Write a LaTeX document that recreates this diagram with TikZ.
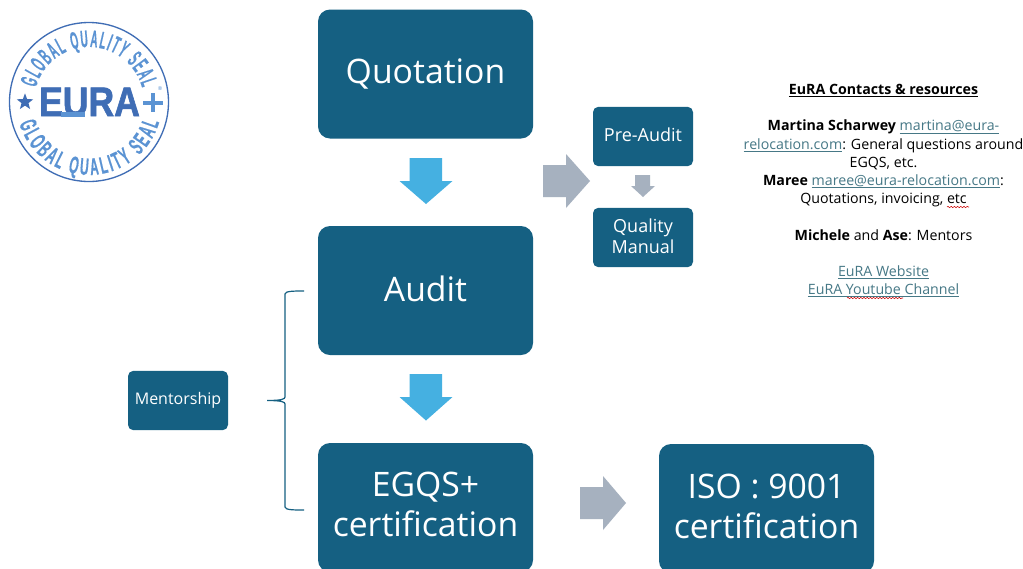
\documentclass[tikz,border=0pt]{standalone}
\usepackage{fontspec}
\setmainfont{Open Sans}
\newfontfamily\sealtop[FakeStretch=0.42,FakeBold=0.3]{Liberation Sans Bold}
\newfontfamily\sealbot[FakeStretch=0.5,FakeBold=0.3]{Liberation Sans Bold}
\newfontfamily\bigfont[FakeStretch=0.86,FakeBold=1.5]{Liberation Sans Bold}
\usetikzlibrary{decorations.text,decorations.pathmorphing,shapes.geometric}
\definecolor{teal1}{HTML}{156082}
\definecolor{blue1}{HTML}{45B0E1}
\definecolor{gray1}{HTML}{A6B1BF}
\definecolor{logoA}{HTML}{3F6DB5}
\definecolor{logoB}{HTML}{5B93D3}
\definecolor{linkc}{HTML}{467886}
\tikzset{
  x=0.75pt,y=-0.75pt,
  bigbox/.style={fill=teal1,rounded corners=9pt,inner sep=0pt,minimum width=161.25pt,minimum height=96.75pt},
  smallbox/.style={fill=teal1,rounded corners=4pt,inner sep=0pt,minimum width=75pt,minimum height=44.5pt},
  bigtext/.style={text=white,align=center,inner sep=0pt,font=\fontsize{25.3}{30}\selectfont},
  smalltext/.style={text=white,align=center,inner sep=0pt,font=\fontsize{13.5}{15.5}\selectfont},
  mtext/.style={smalltext,font=\fontsize{12}{14}\selectfont},
  blockdown/.style={fill=blue1},
  blockright/.style={fill=gray1},
  info/.style={align=center,inner sep=0pt,font=\fontsize{10.65}{13.65}\selectfont},
  squiggle/.style={red!80!black,line width=0.4pt,decorate,decoration={snake,amplitude=0.5pt,segment length=2.4pt}},
}
\newcommand{\lk}[1]{{\color{linkc}\underline{\smash{#1}}}}
\begin{document}
\begin{tikzpicture}
\useasboundingbox (0,0) rectangle (1023,568);
\clip (0,0) rectangle (1023,568);
\fill[white] (0,0) rectangle (1023,568);

% boxes
\node[bigbox,label={[bigtext]center:Quotation}] (quot) at (425.5,74) {};
\node[bigbox,label={[bigtext,yshift=1.5pt]center:Audit}] (audit) at (425.5,290.5) {};
\node[bigbox,label={[bigtext,yshift=2pt]center:EGQS+\\certification}] (egqs) at (425.5,507.5) {};
\node[bigbox,label={[bigtext,yshift=1.2pt]center:ISO : 9001\\certification}] (iso) at (766.5,508.5) {};
\node[smallbox,label={[smalltext,yshift=1.5pt]center:Pre-Audit}] (pre) at (643,136.5) {};
\node[smallbox,label={[smalltext,yshift=0.8pt]center:Quality\\Manual}] (qm) at (643,237.5) {};
\node[smallbox,label={[mtext]center:Mentorship}] (ment) at (178,400.5) {};

% block arrows
\fill[blockdown] (409.5,158) -- (442,158) -- (442,181) -- (452.5,181) -- (426,204) -- (399.5,181) -- (409.5,181) -- cycle;
\fill[blockdown] (409.5,374) -- (442,374) -- (442,397) -- (452.5,397) -- (426,420.5) -- (399.5,397) -- (409.5,397) -- cycle;
\fill[blockright] (543,165) -- (566,165) -- (566,154) -- (590,181) -- (566,208) -- (566,197) -- (543,197) -- cycle;
\fill[blockright] (580,487) -- (603,487) -- (603,476) -- (626,503) -- (603,530) -- (603,519) -- (580,519) -- cycle;
\fill[blockright] (635,175) -- (650,175) -- (650,186) -- (655,186) -- (643,197) -- (631,186) -- (635,186) -- cycle;

% brace
\draw[teal1,line width=0.9pt] (304,291) .. controls (294,291) and (285,291) .. (285,294) -- (285,397) .. controls (285,399) and (282,400.5) .. (267,400.5) .. controls (282,400.5) and (285,402) .. (285,404) -- (285,507) .. controls (285,510) and (294,510) .. (304,510);

% seal
\draw[logoA,line width=1pt] (89,102) circle[radius=79.5];
\path[decorate,decoration={text along path,text align={fit to path},text={|\sealtop\fontsize{18}{20}\selectfont\color{logoB}|GLOBAL QUALITY SEAL}}]
  plot[domain=195:345,samples=60] ({89+55*cos(\x)},{102+55*sin(\x)});
\path[decorate,decoration={text along path,text align={fit to path},text={|\sealbot\fontsize{18}{20}\selectfont\color{logoB}|GLOBAL QUALITY SEAL}}]
  plot[domain=163:16,samples=60] ({89+73*cos(\x)},{102+73*sin(\x)});
\node[star,star points=5,star point ratio=2.4,fill=logoA,inner sep=0pt,minimum size=13pt] (sealstar) at (25,102) {};
\node[inner sep=0pt,text=logoA,font=\bigfont\fontsize{31}{31}\selectfont] (sealname) at (89.5,102) {EURA};
\fill[logoB] (60.5,111.7) rectangle (85,117.3);
\fill[logoB] (151,93) rectangle (155,112);
\fill[logoB] (143,100.5) rectangle (163,104.5);
\node[inner sep=0pt,text=logoB,font=\fontsize{4}{4}\selectfont] (sealreg) at (160,88.5) {®};

% contacts
\node[info] (contacts) at (883.5,196) {%
\textbf{\underline{\smash{EuRA Contacts \& resources}}}\\
\mbox{}\\
\textbf{Martina Scharwey} \lk{martina@eura-}\\
\lk{relocation.com}: General questions around\\
EGQS, etc.\\
\textbf{Maree} \lk{maree@eura-relocation.com}:\\
Quotations, invoicing, etc\\
\mbox{}\\
\textbf{Michele} and \textbf{Ase}: Mentors\\
\mbox{}\\
\lk{EuRA Website}\\
\lk{EuRA Youtube Channel}};
\draw[squiggle] (947,207) -- (969,207);
\draw[squiggle] (847,298) -- (903,298);
\end{tikzpicture}
\end{document}
